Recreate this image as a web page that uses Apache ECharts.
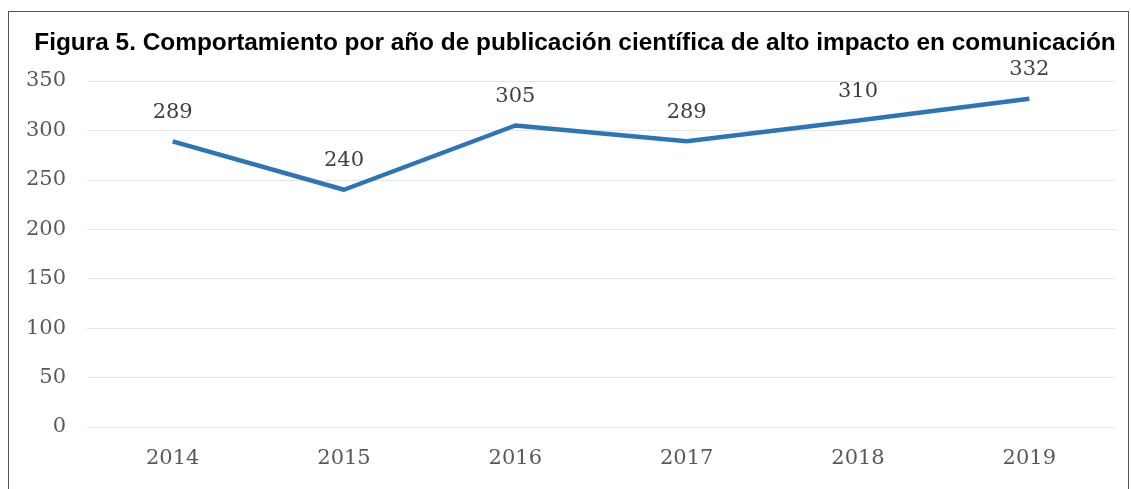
<!DOCTYPE html>
<html><head><meta charset="utf-8">
<script src="https://cdn.jsdelivr.net/npm/echarts@6/dist/echarts.min.js"></script>
<style>html,body{margin:0;padding:0;background:#fff;}#c{width:1131px;height:489px;}
#frame{position:absolute;left:8px;top:11px;width:1121px;height:480px;border:1px solid #555;border-bottom:none;box-sizing:border-box;pointer-events:none;}</style>
</head><body><div id="c"></div><div id="frame"></div>
<script>
const titleText = "Figura 5. Comportamiento por año de publicación científica de alto impacto en comunicación";
const years = ["2014","2015","2016","2017","2018","2019"];
const publicaciones = [289, 240, 305, 289, 310, 332];
const yTicks = {min: 0, max: 350, interval: 50};
const serif = "DejaVu Serif";
const chart = echarts.init(document.getElementById('c'));
chart.setOption({
  animation: false,
  title: {text: titleText, left: 570, textAlign: 'center', top: 26,
    textStyle: {fontFamily: 'Liberation Sans', fontWeight: 'bold', fontSize: 24.4, color: '#000'}},
  grid: {left: 87, right: 16, top: 81, bottom: 62},
  xAxis: {type: 'category', data: years, boundaryGap: true,
    axisLine: {show: false}, axisTick: {show: false},
    axisLabel: {fontFamily: serif, fontSize: 21, color: '#595959', margin: 21}},
  yAxis: {type: 'value', min: yTicks.min, max: yTicks.max, interval: yTicks.interval,
    axisLine: {show: false}, axisTick: {show: false},
    splitLine: {lineStyle: {color: '#e6e6e6', width: 1}},
    axisLabel: {fontFamily: serif, fontSize: 21, color: '#595959', margin: 21}},
  series: [{type: 'line', data: publicaciones, showSymbol: true, symbol: 'circle', symbolSize: 1,
    itemStyle: {color: 'rgba(0,0,0,0)'},
    lineStyle: {color: '#2E75B6', width: 4.5},
    label: {show: true, position: 'top', distance: 18, fontFamily: serif, fontSize: 21, color: '#404040'}}]
});
</script></body></html>
